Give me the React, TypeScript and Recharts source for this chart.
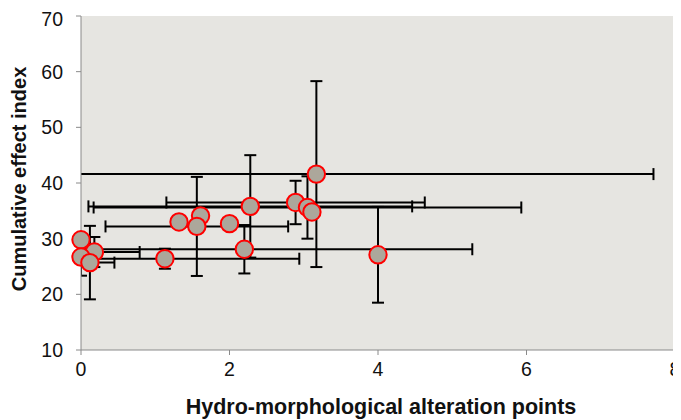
import {
  ScatterChart,
  Scatter,
  XAxis,
  YAxis,
  CartesianGrid,
  ErrorBar,
  Label
} from 'recharts'

// alteration points (x) and cumulative effect index (y) per site
const alterationPoints = [3.17, 2.89, 3.05, 3.11, 2.28, 1.61, 1.56, 1.32, 2.0, 2.2, 1.13, 0.0, 0.18, 0.0, 0.12, 4.0]
const effectIndex = [41.6, 36.5, 35.6, 34.8, 35.8, 34.1, 32.2, 33.0, 32.7, 28.1, 26.4, 29.8, 27.6, 26.7, 25.7, 27.1]
// standard deviations
const alterationSd = [4.54, 1.74, 2.88, 0.08, 2.18, 0.08, 1.23, 0.08, 0.08, 3.07, 1.81, 0.08, 0.61, 0.08, 0.33, 0.08]
const effectSd = [16.7, 3.9, 5.6, 1.0, 9.2, 1.0, 8.9, 1.0, 1.0, 4.35, 1.8, 1.0, 2.7, 3.35, 6.6, 8.6]

const xTicks = [0, 2, 4, 6, 8]
const yTicks = [10, 20, 30, 40, 50, 60, 70]

const data = alterationPoints.map((x, i) => ({
  x,
  y: effectIndex[i],
  xErr: alterationSd[i],
  yErr: effectSd[i]
}))

const font = '"Liberation Sans", Arial, sans-serif'

const W = 673
const H = 412
const margin = { top: 8, right: 6, bottom: 30, left: 0 }
const yAxisWidth = 73
const xAxisHeight = 40

// plot area, used to cut the error bars off at the axes
const plot = {
  x: margin.left + yAxisWidth,
  y: margin.top,
  width: W - margin.left - margin.right - yAxisWidth,
  height: H - margin.top - margin.bottom - xAxisHeight
}

// markers sitting on the axis stay whole, only the error bars are cut
const css = `
.recharts-scatter, .recharts-scatter-symbols { clip-path: none !important; }
.recharts-errorBars, .recharts-errorBar { clip-path: url(#plot-clip) !important; }
`

const Marker = (props: any) => (
  <circle cx={props.cx} cy={props.cy} r={8.7} fill="#aca79b" stroke="#ff0000" strokeWidth={2} />
)

const App = () => {
  return (
    <div style={{ position: 'relative' }}>
      <svg width={0} height={0} style={{ position: 'absolute' }}>
        <defs>
          <clipPath id="plot-clip" clipPathUnits="userSpaceOnUse">
            <rect x={plot.x} y={plot.y} width={plot.width} height={plot.height} />
          </clipPath>
        </defs>
      </svg>
      <style>{css}</style>
      <ScatterChart width={W} height={H} margin={margin}>
        <CartesianGrid horizontal={false} vertical={false} fill="#e6e5e1" stroke="none" />
        <XAxis
          type="number"
          dataKey="x"
          domain={[0, 8]}
          ticks={xTicks}
          allowDataOverflow
          height={xAxisHeight}
          stroke="#8a8a8a"
          tickSize={5}
          tickMargin={7}
          tick={{ fill: '#111', fontSize: 19.5, fontFamily: font }}
        >
          <Label
            content={(p: any) => (
              <text
                x={p.viewBox.x + p.viewBox.width / 2 + 3}
                y={406}
                textAnchor="middle"
                fontFamily={font}
                fontWeight="bold"
                fontSize={21.5}
                fill="#111"
              >
                Hydro-morphological alteration points
              </text>
            )}
          />
        </XAxis>
        <YAxis
          type="number"
          dataKey="y"
          domain={[10, 70]}
          ticks={yTicks}
          allowDataOverflow
          width={yAxisWidth}
          stroke="#8a8a8a"
          tickSize={5}
          tickMargin={13}
          tick={{ fill: '#111', fontSize: 19.5, fontFamily: font }}
        >
          <Label
            content={(p: any) => {
              const cx = 11
              const cy = p.viewBox.y + p.viewBox.height / 2 - 4
              return (
                <text
                  x={cx}
                  y={cy}
                  transform={`rotate(-90 ${cx} ${cy})`}
                  textAnchor="middle"
                  dominantBaseline="central"
                  fontFamily={font}
                  fontWeight="bold"
                  fontSize={20}
                  fill="#111"
                >
                  Cumulative effect index
                </text>
              )
            }}
          />
        </YAxis>
        <Scatter data={data} shape={Marker} isAnimationActive={false}>
          <ErrorBar dataKey="xErr" direction="x" stroke="#000" strokeWidth={2} width={6} />
          <ErrorBar dataKey="yErr" direction="y" stroke="#000" strokeWidth={2} width={6} />
        </Scatter>
      </ScatterChart>
    </div>
  )
}

export default App
